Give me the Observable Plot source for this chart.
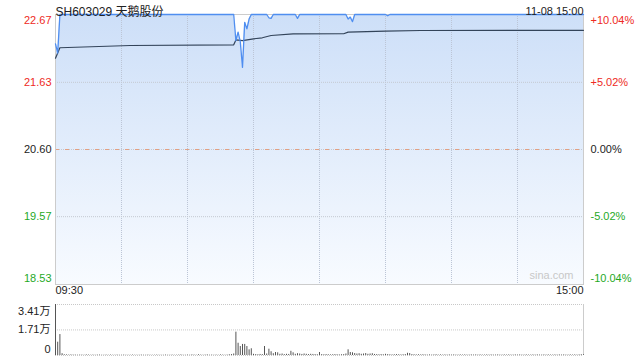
<!DOCTYPE html>
<html><head><meta charset="utf-8">
<script src="https://cdn.jsdelivr.net/npm/d3@7"></script>
<script src="https://cdn.jsdelivr.net/npm/@observablehq/plot@0.6"></script>
<style>
html,body{margin:0;padding:0;background:#fff;}
#chart{position:relative;width:640px;height:360px;}
#chart svg{display:block;}
</style></head><body><div id="chart"></div>
<script>
const title = "SH603029 天鹅股份";
const stamp = "11-08 15:00";
const timeLabels = ["09:30", "15:00"];
const prevClose = 20.60;
const priceTicks = [22.67, 21.63, 20.60, 19.57, 18.53];
const pctLabels = ["+10.04%", "+5.02%", "0.00%", "-5.02%", "-10.04%"];
const volTicks = [3.41, 1.71, 0];
const volLabels = ["3.41万", "1.71万", "0"];
const gridMinutes = [30, 60, 90, 120, 150, 180, 210];

// price line (minute index since 09:30, trading minutes)
const priceMinutes = [0, 1, 2, 81, 82, 83, 84, 85, 86, 87, 88, 89, 96, 97, 98, 99, 109, 110, 111, 132, 133, 134, 135, 136, 150, 151, 152, 240];
const priceValues  = [22.22, 22.08, 22.67, 22.67, 22.27, 22.40, 22.25, 21.86, 22.55, 22.45, 22.60, 22.67, 22.67, 22.62, 22.61, 22.67, 22.67, 22.61, 22.67, 22.67, 22.60, 22.63, 22.56, 22.67, 22.67, 22.65, 22.67, 22.67];

// average price line
const avgMinutes = [0, 2, 34, 81, 82, 85, 90, 94, 98, 108, 131, 133, 150, 166, 240];
const avgValues  = [22.00, 22.16, 22.195, 22.205, 22.28, 22.27, 22.297, 22.313, 22.348, 22.374, 22.375, 22.40, 22.414, 22.425, 22.427];

// volume per minute (万)
const volumes = [
  3.41, 0.89, 1.40, 0.12, 0.05, 0.04, 0.03, 0.04, 0.03, 0.03,
  0.02, 0.03, 0.03, 0.02, 0.04, 0.03, 0.02, 0.03, 0.02, 0.03,
  0.03, 0.02, 0.02, 0.03, 0.02, 0.03, 0.02, 0.02, 0.03, 0.02,
  0.02, 0.03, 0.02, 0.02, 0.02, 0.03, 0.02, 0.02, 0.02, 0.03,
  0.02, 0.02, 0.03, 0.02, 0.02, 0.02, 0.03, 0.02, 0.02, 0.02,
  0.03, 0.02, 0.02, 0.03, 0.02, 0.02, 0.03, 0.04, 0.02, 0.02,
  0.03, 0.02, 0.04, 0.03, 0.02, 0.05, 0.03, 0.02, 0.03, 0.04,
  0.02, 0.03, 0.02, 0.03, 0.02, 0.04, 0.03, 0.02, 0.03, 0.05,
  0.06, 0.10, 1.56, 0.82, 0.60, 0.74, 0.74, 0.60, 0.38, 0.45,
  0.08, 0.06, 0.05, 0.07, 0.06, 0.60, 0.10, 0.42, 0.25, 0.12,
  0.20, 0.18, 0.08, 0.10, 0.06, 0.08, 0.07, 0.28, 0.18, 0.08,
  0.12, 0.10, 0.07, 0.10, 0.08, 0.06, 0.08, 0.07, 0.06, 0.05,
  0.20, 0.06, 0.05, 0.06, 0.05, 0.04, 0.05, 0.06, 0.05, 0.04,
  0.05, 0.06, 0.10, 0.38, 0.20, 0.18, 0.13, 0.10, 0.12, 0.08,
  0.10, 0.13, 0.08, 0.10, 0.12, 0.07, 0.06, 0.05, 0.06, 0.05,
  0.08, 0.06, 0.05, 0.04, 0.05, 0.06, 0.05, 0.04, 0.05, 0.06,
  0.15, 0.13, 0.06, 0.05, 0.04, 0.05, 0.04, 0.05, 0.04, 0.03,
  0.04, 0.03, 0.04, 0.05, 0.03, 0.04, 0.03, 0.04, 0.03, 0.04,
  0.03, 0.04, 0.03, 0.03, 0.04, 0.03, 0.04, 0.03, 0.03, 0.04,
  0.03, 0.04, 0.03, 0.04, 0.03, 0.03, 0.04, 0.03, 0.04, 0.03,
  0.03, 0.04, 0.03, 0.03, 0.04, 0.03, 0.04, 0.03, 0.03, 0.04,
  0.03, 0.04, 0.03, 0.03, 0.04, 0.03, 0.03, 0.04, 0.03, 0.04,
  0.03, 0.03, 0.04, 0.03, 0.04, 0.03, 0.03, 0.04, 0.03, 0.04,
  0.03, 0.04, 0.03, 0.03, 0.04, 0.03, 0.04, 0.03, 0.04, 0.05,
  0.05
];

const RED = "#ee2a24", GREEN = "#1fa91f", DARK = "#222";
const FONT = "'Liberation Sans', Arial, 'Noto Sans CJK SC', sans-serif";
const yMin = priceTicks[priceTicks.length - 1], yMax = priceTicks[0];
const priceData = priceMinutes.map((m, i) => ({m, p: priceValues[i]}));
const avgData = avgMinutes.map((m, i) => ({m, a: avgValues[i]}));
const volData = volumes.map((v, i) => ({m: i, v}));
const colorOf = v => v > prevClose ? RED : v < prevClose ? GREEN : DARK;
const tickDy = [6, 0, 0, 0, -6];

const priceMarks = [
  Plot.areaY(priceData, {x: "m", y1: () => yMin, y2: "p", fill: "url(#pg)"}),
  Plot.ruleX(gridMinutes, {stroke: "#bcc5d6", strokeDasharray: "1,1"}),
  Plot.ruleY([priceTicks[1], priceTicks[3]], {stroke: "#c4c9d2", strokeDasharray: "1,1"}),
  Plot.ruleY([prevClose], {stroke: "#c4c9d2", strokeDasharray: "1,1"}),
  Plot.ruleY([prevClose], {stroke: "#e3a083", strokeDasharray: "4,6"}),
  Plot.frame({stroke: "#cccccc"}),
  Plot.lineY(avgData, {x: "m", y: "a", stroke: "#33445a", strokeWidth: 1.2}),
  Plot.lineY(priceData, {x: "m", y: "p", stroke: "#4f8ef0", strokeWidth: 1.3}),
  Plot.text([title], {frameAnchor: "top-left", text: d => d, textAnchor: "start", dy: -7, fontSize: 12, fill: DARK}),
  Plot.text([stamp], {frameAnchor: "top-right", text: d => d, textAnchor: "end", dy: -7, fontSize: 11, fill: DARK}),
  Plot.text([timeLabels[0]], {frameAnchor: "bottom-left", text: d => d, textAnchor: "start", dy: 9, fontSize: 11, fill: DARK}),
  Plot.text([timeLabels[1]], {frameAnchor: "bottom-right", text: d => d, textAnchor: "end", dy: 9, fontSize: 11, fill: DARK}),
  Plot.text(["sina.com"], {frameAnchor: "bottom-right", text: d => d, textAnchor: "end", dx: -10, dy: -6, fontSize: 11, fill: "#c8c8c8"})
];
priceTicks.forEach((v, i) => {
  priceMarks.push(Plot.text([v], {x: () => 0, y: d => d, text: d => d.toFixed(2), textAnchor: "end", dx: -4, dy: tickDy[i], fontSize: 11, fill: colorOf(v)}));
  priceMarks.push(Plot.text([v], {x: () => 240, y: d => d, text: () => pctLabels[i], textAnchor: "start", dx: 7, dy: tickDy[i], fontSize: 11, fill: colorOf(v)}));
});

const price = Plot.plot({
  width: 640, height: 300,
  marginLeft: 55, marginRight: 57, marginTop: 14, marginBottom: 16,
  x: {domain: [0, 240], axis: null},
  y: {domain: [yMin, yMax], axis: null},
  style: {fontFamily: FONT, background: "transparent"},
  marks: priceMarks
});
const defs = d3.select(price).insert("defs", ":first-child");
const grad = defs.append("linearGradient").attr("id", "pg")
  .attr("gradientUnits", "userSpaceOnUse").attr("x1", 0).attr("x2", 0).attr("y1", 14).attr("y2", 284);
grad.append("stop").attr("offset", "0").attr("stop-color", "#cddff8");
grad.append("stop").attr("offset", "1").attr("stop-color", "#f8fbff");

const volDy = [7, 0, -6];
const volMarks = [
  Plot.ruleY(volTicks, {stroke: "#c8c8c8", strokeDasharray: "1,1"}),
  Plot.ruleX([0, 240], {stroke: "#cccccc"}),
  Plot.ruleX(volData, {x: "m", y1: () => 0, y2: "v", stroke: "#555"})
];
volTicks.forEach((v, i) => {
  volMarks.push(Plot.text([v], {x: () => 0, y: d => d, text: () => volLabels[i], textAnchor: "end", dx: -5, dy: volDy[i], fontSize: 11, fill: DARK}));
});
const vol = Plot.plot({
  width: 640, height: 60,
  marginLeft: 55, marginRight: 57, marginTop: 4, marginBottom: 5,
  x: {domain: [0, 240], axis: null},
  y: {domain: [0, volTicks[0]], axis: null},
  style: {fontFamily: FONT, background: "transparent"},
  marks: volMarks
});

const root = document.getElementById("chart");
root.appendChild(price);
root.appendChild(vol);
</script>
</body></html>
